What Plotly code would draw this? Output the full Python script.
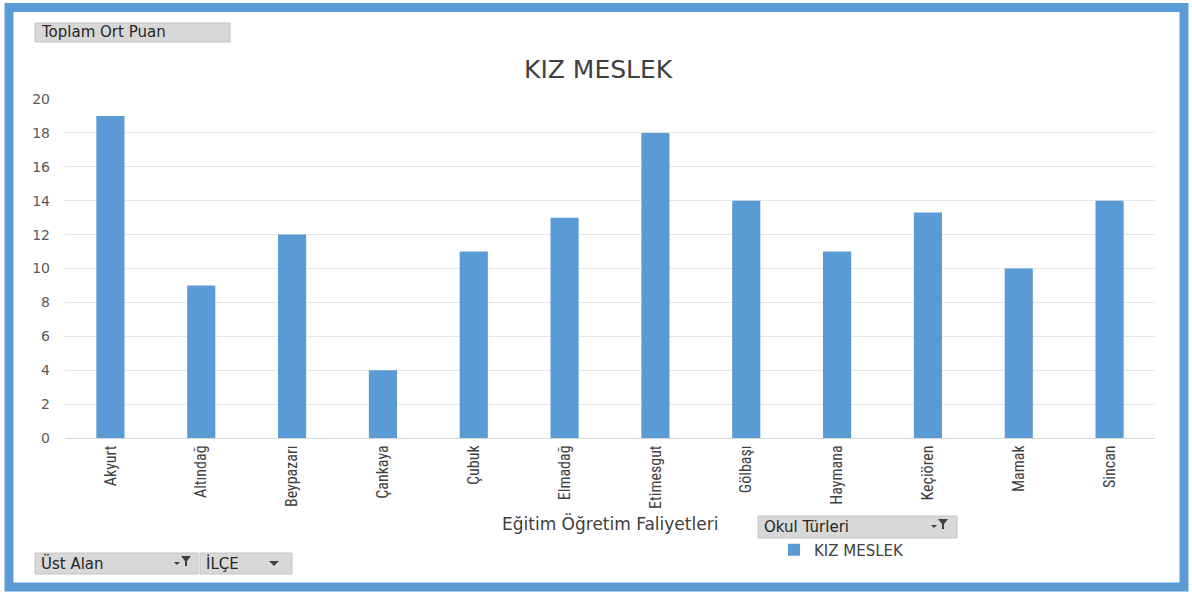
import plotly.graph_objects as go

categories = ["Akyurt", "Altındağ", "Beypazarı", "Çankaya", "Çubuk", "Elmadağ",
              "Etimesgut", "Gölbaşı", "Haymana", "Keçiören", "Mamak", "Sincan"]
values = [19, 9, 12, 4, 11, 13, 18, 14, 11, 13.3, 10, 14]
series_name = "KIZ MESLEK"
y_ticks = [0, 2, 4, 6, 8, 10, 12, 14, 16, 18, 20]

W, H = 1192, 597
L, R, T, B = 65, 1155, 99, 438
BLUE = "#5B9BD5"
WIDE = "DejaVu Sans, Verdana, sans-serif"


def px(x):
    return (x - L) / (R - L)


def py(y):
    return (B - y) / (B - T)


fig = go.Figure()
fig.add_trace(go.Bar(x=categories, y=values, name=series_name,
                     marker=dict(color=BLUE, line=dict(width=0))))

shapes = []
annotations = []

# outer blue frame
shapes.append(dict(type="rect", xref="paper", yref="paper",
                   x0=px(9), x1=px(1184), y0=py(587), y1=py(7.5),
                   line=dict(color=BLUE, width=9), fillcolor="rgba(0,0,0,0)", layer="above"))


def funnel(cx, cy):
    pts = [(cx - 5, cy - 5), (cx + 5, cy - 5), (cx + 1, cy), (cx + 1, cy + 5),
           (cx - 1, cy + 5), (cx - 1, cy)]
    path = "M " + " L ".join(f"{px(a)},{py(b)}" for a, b in pts) + " Z"
    shapes.append(dict(type="path", xref="paper", yref="paper", path=path,
                       fillcolor="#404040", line=dict(width=0)))
    tri = [(cx - 12, cy + 1), (cx - 6, cy + 1), (cx - 9, cy + 4)]
    path2 = "M " + " L ".join(f"{px(a)},{py(b)}" for a, b in tri) + " Z"
    shapes.append(dict(type="path", xref="paper", yref="paper", path=path2,
                       fillcolor="#404040", line=dict(width=0)))


def dropdown(cx, cy):
    tri = [(cx - 5, cy - 2), (cx + 5, cy - 2), (cx, cy + 3)]
    path = "M " + " L ".join(f"{px(a)},{py(b)}" for a, b in tri) + " Z"
    shapes.append(dict(type="path", xref="paper", yref="paper", path=path,
                       fillcolor="#404040", line=dict(width=0)))


def button(x0, y0, x1, y1, text):
    shapes.append(dict(type="rect", xref="paper", yref="paper",
                       x0=px(x0), x1=px(x1), y0=py(y1), y1=py(y0),
                       line=dict(color="#C4C4C4", width=1), fillcolor="#D8D8D8"))
    annotations.append(dict(xref="paper", yref="paper", x=px(x0 + 4), y=py((y0 + y1) / 2),
                            xanchor="left", yanchor="middle", showarrow=False, text=text,
                            font=dict(family=WIDE, size=15, color="#262626")))


button(35, 23, 230, 42, "Toplam Ort Puan")
button(758, 516, 957, 538, "Okul Türleri")
funnel(943, 524)
button(35, 553, 198, 574, "Üst Alan")
funnel(186, 561)
button(200, 553, 292, 574, "İLÇE")
dropdown(274, 563)

# title
annotations.append(dict(xref="paper", yref="paper", x=px(598), y=py(69),
                        xanchor="center", yanchor="middle", showarrow=False, text="KIZ MESLEK",
                        font=dict(family=WIDE, size=25, color="#404040")))
# x axis title
annotations.append(dict(xref="paper", yref="paper", x=px(610), y=py(523),
                        xanchor="center", yanchor="middle", showarrow=False,
                        text="Eğitim Öğretim Faliyetleri",
                        font=dict(family=WIDE, size=17, color="#404040")))

fig.update_layout(
    width=W, height=H,
    margin=dict(l=L, r=W - R, t=T, b=H - B),
    paper_bgcolor="white", plot_bgcolor="white",
    bargap=0.69,
    shapes=shapes, annotations=annotations,
    showlegend=True,
    legend=dict(x=px(774), y=py(550), xanchor="left", yanchor="middle",
                font=dict(family=WIDE, size=15, color="#404040"),
                itemwidth=30, bgcolor="rgba(0,0,0,0)"),
    xaxis=dict(tickangle=-90, showgrid=False, showline=True, linecolor="#D9D9D9",
               tickfont=dict(family="Liberation Sans Narrow, Roboto Condensed, Liberation Sans", size=16, color="#404040"),
               ticks=""),
    yaxis=dict(range=[0, 20], tickvals=y_ticks, showgrid=True, gridcolor="#E6E6E6",
               zeroline=False, ticks="", showline=False, ticklabelstandoff=14,
               tickfont=dict(family=WIDE, size=14, color="#595959")),
    font=dict(family=WIDE),
)

fig.write_html("out.html", config={"displayModeBar": False},
               post_script="document.body.style.margin='0';")
